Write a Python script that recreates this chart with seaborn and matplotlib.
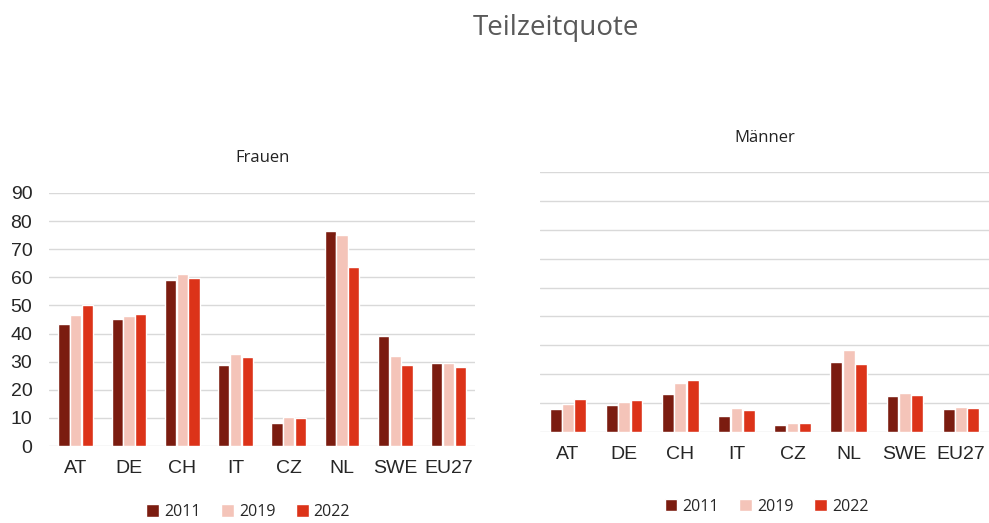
import pandas as pd
import matplotlib.pyplot as plt
import seaborn as sns

# Data (Teilzeitquote in %)
countries = ['AT', 'DE', 'CH', 'IT', 'CZ', 'NL', 'SWE', 'EU27']
years = ['2011', '2019', '2022']

frauen_2011 = [43.5, 45.3, 59.0, 28.8, 8.1, 76.6, 39.2, 29.7]
frauen_2019 = [46.6, 46.3, 61.2, 32.7, 10.4, 75.0, 32.0, 29.5]
frauen_2022 = [50.1, 46.9, 59.6, 31.6, 10.0, 63.7, 28.8, 28.3]

maenner_2011 = [7.9, 9.3, 13.0, 5.5, 2.3, 24.2, 12.5, 7.9]
maenner_2019 = [9.8, 10.5, 17.1, 8.3, 3.1, 28.4, 13.4, 8.8]
maenner_2022 = [11.5, 11.1, 18.1, 7.7, 3.1, 23.6, 12.9, 8.3]

colors = ['#7b1c10', '#f4c4b9', '#dc3319']


def to_long(v2011, v2019, v2022):
    rows = []
    for year, vals in zip(years, [v2011, v2019, v2022]):
        for c, v in zip(countries, vals):
            rows.append({'Land': c, 'Jahr': year, 'Wert': v})
    return pd.DataFrame(rows)


frauen = to_long(frauen_2011, frauen_2019, frauen_2022)
maenner = to_long(maenner_2011, maenner_2019, maenner_2022)

sns.set_style('white')
plt.rcParams['font.family'] = ['Liberation Sans', 'DejaVu Sans']

fig = plt.figure(figsize=(9.89, 5.23), dpi=100)
ax1 = fig.add_axes([0.0495, 0.147, 0.431, 0.484])
ax2 = fig.add_axes([0.546, 0.174, 0.454, 0.497])

for ax, df, title, legy, legx in [
    (ax1, frauen, 'Frauen', 0.021, 0.251),
    (ax2, maenner, 'Männer', 0.031, 0.775),
]:
    sns.barplot(data=df, x='Land', y='Wert', hue='Jahr', palette=colors,
                saturation=1, width=0.66, gap=0.04, ax=ax, legend=True)
    ax.set_ylim(0, 90)
    ax.set_yticks(range(0, 91, 10))
    ax.set_xlim(-0.5, 7.5)
    ax.grid(axis='y', color='#d9d9d9', linewidth=1)
    ax.set_axisbelow(True)
    for s in ax.spines.values():
        s.set_visible(False)
    ax.set_xlabel('')
    ax.set_ylabel('')
    ax.tick_params(axis='x', length=0, pad=10, labelsize=14, labelcolor='#262626')
    ax.tick_params(axis='y', length=0, pad=12, labelsize=14, labelcolor='#262626')
    ax.set_title(title, fontsize=12, pad=22, color='#222222', family='Open Sans')
    handles, labels = ax.get_legend_handles_labels()
    ax.legend_.remove()
    fig.legend(handles, labels, loc='center', bbox_to_anchor=(legx, legy), ncol=3,
               frameon=False, handlelength=0.8, handleheight=0.8, handletextpad=0.3,
               columnspacing=1.3, prop={'family': 'Open Sans', 'size': 11.5})

ax2.set_yticklabels([])

fig.text(0.562, 0.947, 'Teilzeitquote', ha='center', va='center', fontsize=20,
         color='#595959', family='Open Sans')

plt.savefig('out.png', dpi=100)
plt.close()
